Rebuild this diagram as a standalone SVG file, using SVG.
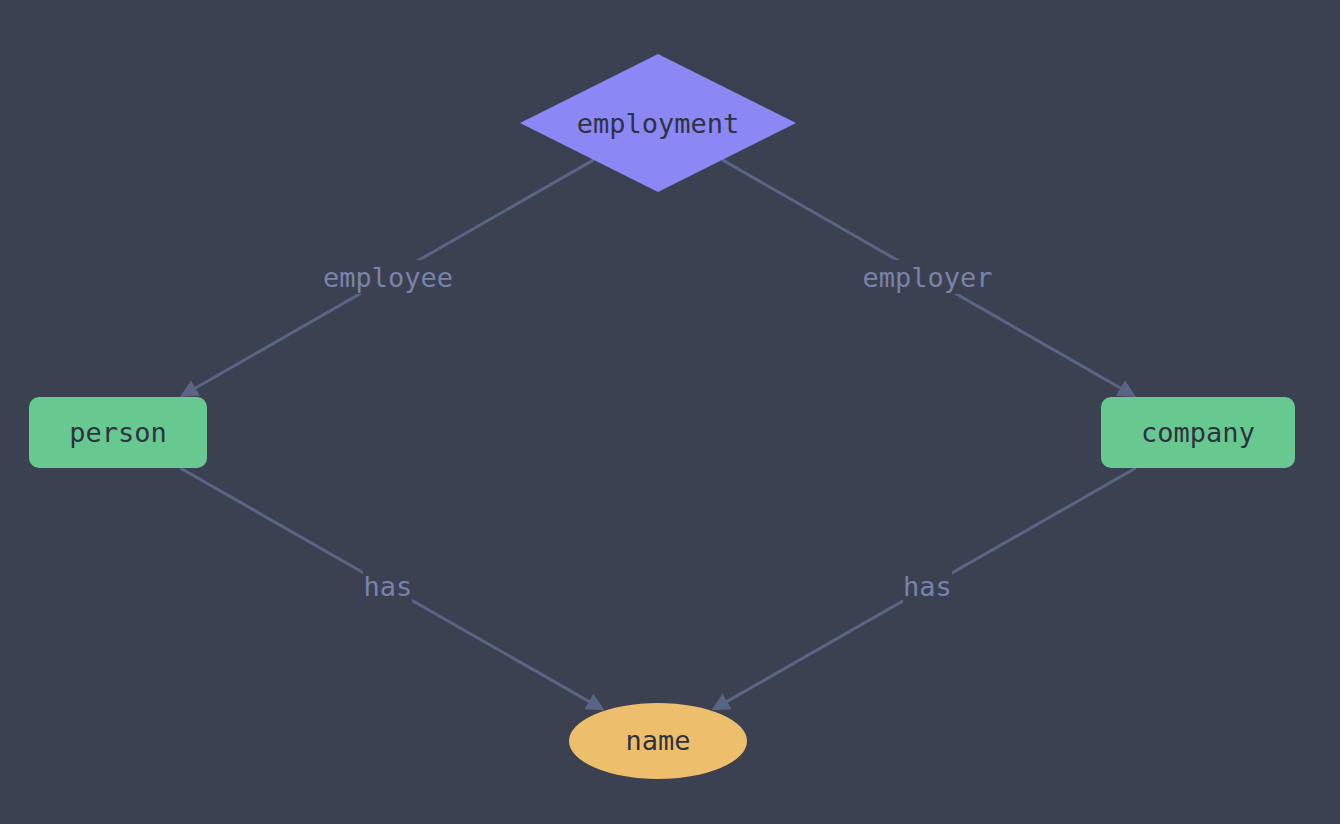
<svg xmlns="http://www.w3.org/2000/svg" width="1340" height="824" viewBox="0 0 1340 824">
  <defs>
    <style>
      .edge { stroke: #5a6584; stroke-width: 3; fill: none; }
      .lblbg { fill: #3c4151; }
      .lbl { font-family: "DejaVu Sans Mono", "Liberation Mono", monospace; font-size: 27px; fill: #7883aa; text-anchor: middle; }
      .ntxt { font-family: "DejaVu Sans Mono", "Liberation Mono", monospace; font-size: 27px; fill: #2e3241; text-anchor: middle; }
      .entity { fill: #68c990; }
      .rel { fill: #8b87f4; }
      .attr { fill: #edbf6d; }
    </style>
    <marker id="arrow" markerUnits="userSpaceOnUse" markerWidth="18" markerHeight="18" refX="8" refY="9" orient="auto">
      <path d="M0,0 L18,9 L0,18 Z" fill="#5a6584"/>
    </marker>
  </defs>
  <rect x="0" y="0" width="1340" height="824" fill="#3c4151"/>

  <g id="connectors">
    <g id="edge-employee">
      <line class="edge" x1="593.7" y1="159.9" x2="188.6" y2="392.0" marker-end="url(#arrow)"/>
      <rect class="lblbg" x="322" y="260" width="131" height="34"/>
      <text class="lbl" x="388" y="287">employee</text>
    </g>
    <g id="edge-employer">
      <line class="edge" x1="722.3" y1="159.9" x2="1127.4" y2="392.0" marker-end="url(#arrow)"/>
      <rect class="lblbg" x="862" y="260" width="131" height="34"/>
      <text class="lbl" x="927.5" y="287">employer</text>
    </g>
    <g id="edge-person-has">
      <line class="edge" x1="180.2" y1="468" x2="595.8" y2="705.4" marker-end="url(#arrow)"/>
      <rect class="lblbg" x="363" y="569" width="49" height="34"/>
      <text class="lbl" x="388" y="596">has</text>
    </g>
    <g id="edge-company-has">
      <line class="edge" x1="1135.8" y1="468" x2="720.2" y2="705.4" marker-end="url(#arrow)"/>
      <rect class="lblbg" x="903" y="569" width="49" height="34"/>
      <text class="lbl" x="927.5" y="596">has</text>
    </g>
  </g>

  <g id="employment">
    <polygon class="rel" points="658,54 796,123 658,192 520,123"/>
    <text class="ntxt" x="658" y="133">employment</text>
  </g>
  <g id="person">
    <rect class="entity" x="29" y="397" width="178" height="71" rx="10" ry="10"/>
    <text class="ntxt" x="118" y="442">person</text>
  </g>
  <g id="company">
    <rect class="entity" x="1101" y="397" width="194" height="71" rx="10" ry="10"/>
    <text class="ntxt" x="1198" y="442">company</text>
  </g>
  <g id="name">
    <ellipse class="attr" cx="658" cy="741" rx="89" ry="38"/>
    <text class="ntxt" x="658" y="750">name</text>
  </g>
</svg>
